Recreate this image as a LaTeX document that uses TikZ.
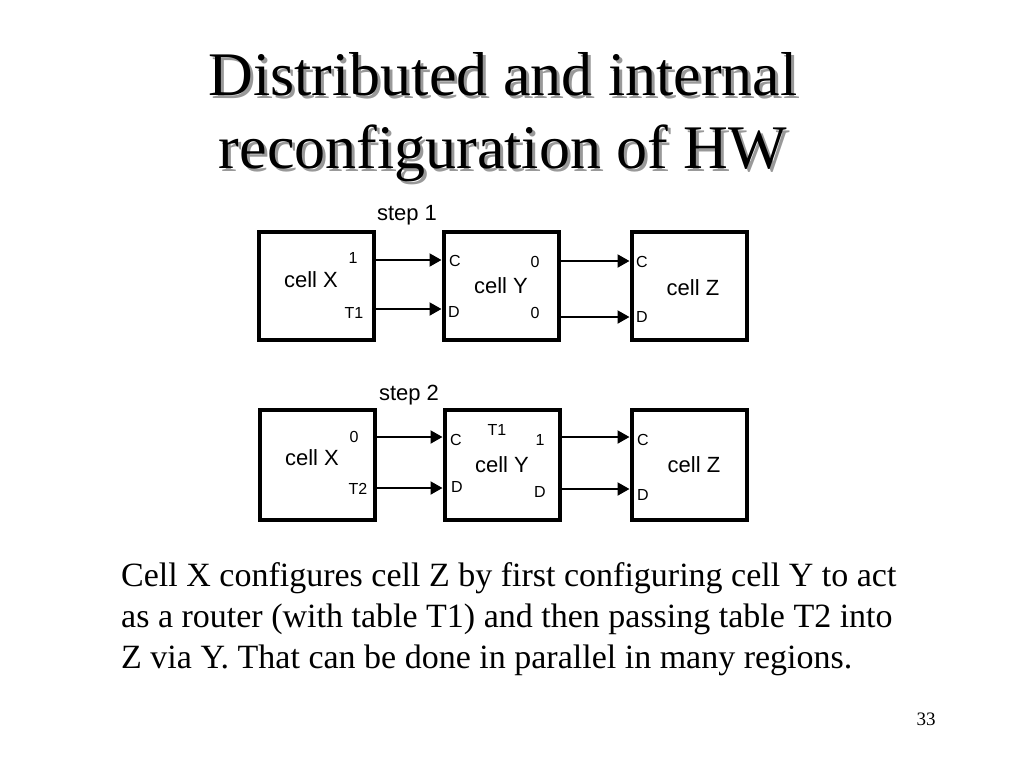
\documentclass[tikz,border=0pt]{standalone}
\usepackage{fontspec}
\setmainfont{Liberation Serif}
\newfontfamily\labelfont{Liberation Sans}
\usetikzlibrary{arrows.meta}

\tikzset{
  cell/.style={draw, line width=4pt, minimum width=115pt, minimum height=108pt, inner sep=0pt},
  port/.style={font=\labelfont\fontsize{16}{16}\selectfont, inner sep=0pt},
  cellname/.style={font=\labelfont\fontsize{22}{22}\selectfont, inner sep=0pt},
  wire/.style={-{Triangle[length=12pt,width=13pt]}, line width=2pt}
}

\begin{document}
\begin{tikzpicture}[x=1pt, y=-1pt, align=center]
\useasboundingbox[fill=white] (0,0) rectangle (1024,768);

% title with its shadow
\node[anchor=base, text=black!40, font=\fontsize{62}{73}\selectfont] (shadow) at (506,171)
  {Distributed and internal\\reconfiguration of HW};
\node[anchor=base, font=\fontsize{62}{73}\selectfont] (title) at (503,168)
  {Distributed and internal\\reconfiguration of HW};

% step 1
\node[cellname] (s1) at (407,215) {step 1};
\node[cell] (x1) at (316,286) {};
\node[cell] (y1) at (501,286) {};
\node[cell] (z1) at (689,286) {};
\node[cellname] (x1n) at (311,280) {cell X};
\node[cellname] (y1n) at (501,286) {cell Y};
\node[cellname] (z1n) at (693,288) {cell Z};
\node[port] (x1c) at (353,258) {1};
\node[port] (x1d) at (354,313) {T1};
\node[port] (y1c) at (455,261) {C};
\node[port] (y1d) at (454,312) {D};
\node[port] (y1co) at (535,262) {0};
\node[port] (y1do) at (535,313) {0};
\node[port] (z1c) at (642,262) {C};
\node[port] (z1d) at (642,317) {D};

\path[wire] ([yshift=26pt]x1.east) edge ([yshift=26pt]y1.west)
            ([yshift=-23pt]x1.east) edge ([yshift=-23pt]y1.west)
            ([yshift=25pt]y1.east) edge ([yshift=25pt]z1.west)
            ([yshift=-31pt]y1.east) edge ([yshift=-31pt]z1.west);

% step 2
\node[cellname] (s2) at (409,395) {step 2};
\node[cell, minimum height=110pt] (x2) at (317,465) {};
\node[cell, minimum height=110pt] (y2) at (502,465) {};
\node[cell, minimum height=110pt] (z2) at (689,465) {};
\node[cellname] (x2n) at (312,458) {cell X};
\node[cellname] (y2n) at (502,465) {cell Y};
\node[cellname] (z2n) at (694,465) {cell Z};
\node[port] (x2c) at (354,437) {0};
\node[port] (x2d) at (358,489) {T2};
\node[port] (y2c) at (456,440) {C};
\node[port] (y2t) at (497,430) {T1};
\node[port] (y2d) at (457,487) {D};
\node[port] (y2co) at (540,440) {1};
\node[port] (y2do) at (540,492) {D};
\node[port] (z2c) at (643,440) {C};
\node[port] (z2d) at (643,495) {D};

\path[wire] ([yshift=28pt]x2.east) edge ([yshift=28pt]y2.west)
            ([yshift=-23pt]x2.east) edge ([yshift=-23pt]y2.west)
            ([yshift=28pt]y2.east) edge ([yshift=28pt]z2.west)
            ([yshift=-24pt]y2.east) edge ([yshift=-24pt]z2.west);

% caption and page number
\node[anchor=base west, align=left, font=\fontsize{34}{41}\selectfont, inner sep=0pt] (caption) at (121,668)
  {Cell X configures cell Z by first configuring cell Y to act\\
   as a router (with table T1) and then passing table T2 into\\
   Z via Y. That can be done in parallel in many regions.};
\node[anchor=base, font=\fontsize{19}{19}\selectfont, inner sep=0pt] (page) at (926,725) {33};
\end{tikzpicture}
\end{document}
